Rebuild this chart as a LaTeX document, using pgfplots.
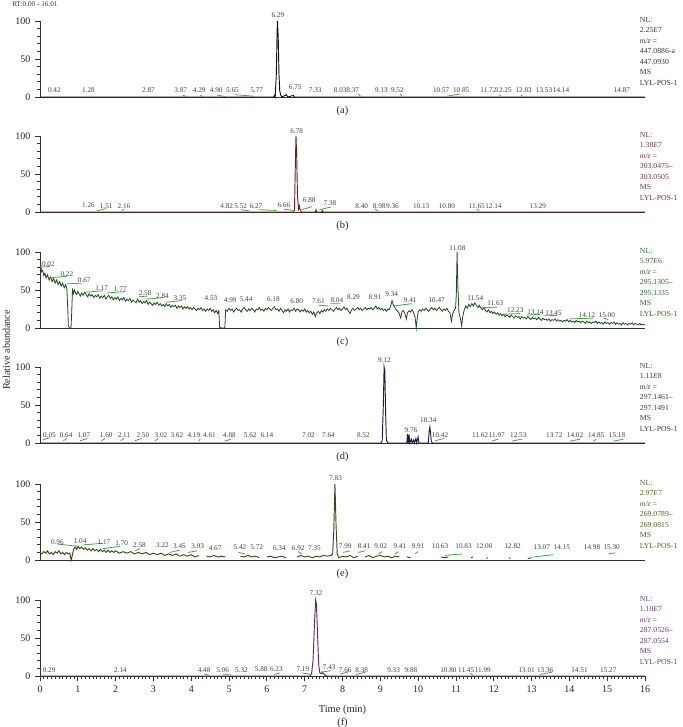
\documentclass[border=0pt]{standalone}
\usepackage{fontspec}
\setmainfont{Liberation Serif}
\usepackage{pgfplots}
\pgfplotsset{compat=1.18}

\definecolor{colA}{HTML}{111111}
\definecolor{colB}{HTML}{6E1E1E}
\definecolor{colC}{HTML}{1E4A1E}
\definecolor{colD}{HTML}{1C1C48}
\definecolor{colE}{HTML}{45451A}
\definecolor{colF}{HTML}{5A2A6A}
\definecolor{txtA}{HTML}{333333}
\definecolor{txtB}{HTML}{7A3434}
\definecolor{txtC}{HTML}{2F6B2F}
\definecolor{txtD}{HTML}{3C3C55}
\definecolor{txtE}{HTML}{5C5C24}
\definecolor{txtF}{HTML}{6A3C7C}
\definecolor{intg}{HTML}{3DAA3D}

\pgfplotsset{
  chrom/.style={
    scale only axis, width=453.75pt, height=57pt,
    xmin=0, xmax=16, ymin=0, ymax=100,
    anchor=south west, clip=false,
    axis x line*=bottom, axis y line*=left,
    axis line style={line width=0.7pt, black!80},
    ytick={0,50,100}, minor y tick num=4,
    xtick=\empty,
    tick align=outside,
    major tick length=3.6pt, minor tick length=2pt,
    tick style={line width=0.6pt, black!80},
    tick label style={font=\fontsize{7.5}{8}\selectfont, text=black!85},
    /pgf/number format/assume math mode=true,
    unbounded coords=jump,
  },
}
\tikzset{
  pk/.style={font=\fontsize{5.4}{6}\selectfont, inner sep=0pt, text=black!75},
  info/.style={anchor=north west, align=left, inner sep=0pt, xshift=-4pt,
    yshift=3pt, font=\fontsize{5.8}{7.9}\selectfont},
  capt/.style={font=\fontsize{7.8}{9}\selectfont, text=black!85},
  ig/.style={intg, line width=0.6pt},
}
\newcommand\pl[3]{\node[pk] at (axis cs:#1,#2) {#3};}

\begin{document}
\begin{tikzpicture}
\path[use as bounding box] (0,0) rectangle (511.5pt,545.25pt);

\node[anchor=west, font=\fontsize{5.4}{6}\selectfont, text=black!80, inner sep=0pt]
  at (9pt,542.2pt) {RT:0.00 - 16.01};
\node[rotate=90, font=\fontsize{7.6}{9}\selectfont, text=black!85]
  at (4.8pt,282.75pt) {Relative abundance};

% ---------------- (a)
\begin{axis}[chrom, at={(30pt,472.5pt)}]
\addplot[colA, line width=0.7pt] coordinates {
 (0,0) (6.18,0) (6.20,2) (6.22,0) (6.25,30) (6.27,85) (6.28,100) (6.30,78)
 (6.32,30) (6.34,8) (6.37,2) (6.40,0) (6.52,3) (6.55,0) (6.70,2) (6.73,0) (16,0)};
\addplot[ig] coordinates {
 (3.77,2.5) (3.88,0.5) (3.9,nan) (4.23,2.5) (4.31,0.5) (4.4,nan)
 (4.68,2.5) (4.90,0.5) (5.0,nan) (5.16,3) (5.66,1) (5.7,nan)
 (8.42,4) (8.48,1) (8.6,nan) (9.52,4) (9.58,1) (9.7,nan)
 (10.76,1) (11.11,4) (11.2,nan) (12.15,3) (12.19,1) (12.3,nan)
 (12.72,3) (12.76,1)};
\pl{0.38}{8.5}{0.42} \pl{1.28}{8.5}{1.28} \pl{2.87}{8.5}{2.87}
\pl{3.72}{8.5}{3.87} \pl{4.21}{8.5}{4.29} \pl{4.66}{8.5}{4.90}
\pl{5.09}{8.5}{5.65} \pl{5.73}{9.5}{5.77} \pl{6.29}{108}{6.29}
\pl{6.75}{13}{6.75} \pl{7.28}{8.5}{7.33} \pl{7.94}{8.5}{8.03}
\pl{8.27}{8.5}{8.37} \pl{9.03}{8.5}{9.13} \pl{9.45}{8.5}{9.52}
\pl{10.61}{8.5}{10.57} \pl{11.14}{8.5}{10.85} \pl{11.86}{8.5}{11.72}
\pl{12.26}{8.5}{12.25} \pl{12.79}{8.5}{12.83} \pl{13.33}{8.5}{13.53}
\pl{13.78}{8.5}{14.14} \pl{15.39}{8.5}{14.87}
\node[info, text=txtA] at (rel axis cs:1,1)
 {NL:\\2.25\textit{E}7\\\textit{m/z} =\\447.0886-a\\447.0930\\MS\\LYL-POS-1};
\node[capt, yshift=-10.5pt] at (rel axis cs:0.5,0) {(a)};
\end{axis}

% ---------------- (b)
\begin{axis}[chrom, at={(30pt,386.25pt)}]
\addplot[colB, line width=0.7pt] coordinates {
 (0,0) (6.70,0) (6.73,2) (6.75,55) (6.77,100) (6.79,70) (6.81,20) (6.84,4)
 (6.86,8) (6.88,3) (6.92,0) (7.28,0) (7.30,3) (7.32,0) (7.45,0) (7.47,2) (7.49,0) (16,0)};
\addplot[ig] coordinates {
 (1.50,1.5) (1.75,4.5) (1.8,nan) (2.16,1) (2.22,4) (2.3,nan)
 (5.31,3) (5.54,1.5) (5.6,nan) (5.78,3) (6.26,2) (6.3,nan)
 (6.44,4) (6.70,2) (6.8,nan) (6.92,3) (7.19,7) (7.3,nan)
 (7.39,3) (7.69,6.5) (7.8,nan) (8.86,4) (8.95,1) (9.0,nan)
 (11.55,4) (11.62,1)};
\pl{1.28}{8.5}{1.26} \pl{1.75}{7.5}{1.51} \pl{2.22}{7.5}{2.16}
\pl{4.94}{8}{4.82} \pl{5.31}{8}{5.52} \pl{5.71}{8}{6.27}
\pl{6.45}{8.5}{6.66} \pl{6.79}{107}{6.78} \pl{7.12}{15}{6.88}
\pl{7.67}{11}{7.38} \pl{8.51}{8}{8.40} \pl{8.97}{8}{8.98}
\pl{9.32}{8}{9.36} \pl{10.08}{8}{10.13} \pl{10.76}{8}{10.80}
\pl{11.55}{8}{11.65} \pl{11.99}{8}{12.14} \pl{13.17}{8}{13.29}
\node[info, text=txtB] at (rel axis cs:1,1)
 {NL:\\1.38\textit{E}7\\\textit{m/z} =\\303.0475–\\303.0505\\MS\\LYL-POS-1};
\node[capt, yshift=-10.5pt] at (rel axis cs:0.5,0) {(b)};
\end{axis}

% ---------------- (c)
\begin{axis}[chrom, at={(30pt,299.25pt)}]
\addplot[colC, line width=0.6pt] coordinates {
 (0.00,80) (0.02,84) (0.04,74) (0.07,76) (0.10,69) (0.13,72) (0.16,66) (0.20,70)
 (0.24,63) (0.28,67) (0.32,61) (0.36,65) (0.40,59) (0.44,63) (0.48,57) (0.52,61)
 (0.56,55) (0.60,59) (0.64,53) (0.68,57) (0.71,52) (0.73,30) (0.75,3) (0.78,0)
 (0.82,0) (0.84,22) (0.86,52) (0.88,45) (0.91,50) (0.94,46) (0.97,44) (1.00,48)
 (1.03,45) (1.07,42) (1.10,46) (1.14,43) (1.18,47) (1.22,44) (1.26,41) (1.30,45)
 (1.34,42) (1.38,44) (1.42,40) (1.46,43) (1.50,41) (1.54,44) (1.58,39) (1.62,42)
 (1.66,40) (1.70,43) (1.74,38) (1.78,41) (1.82,43) (1.86,39) (1.90,41) (1.94,37)
 (1.98,40) (2.02,38) (2.06,41) (2.10,36) (2.14,39) (2.18,37) (2.22,40) (2.26,35)
 (2.30,38) (2.34,36) (2.38,39) (2.42,34) (2.46,37) (2.50,35) (2.54,33) (2.58,38)
 (2.62,34) (2.66,36) (2.70,32) (2.74,35) (2.78,33) (2.82,36) (2.86,31) (2.90,34)
 (2.94,32) (2.98,30) (3.02,33) (3.06,31) (3.10,34) (3.14,30) (3.18,32) (3.22,29)
 (3.26,31) (3.30,28) (3.34,32) (3.38,29) (3.42,31) (3.46,27) (3.50,30) (3.54,28)
 (3.58,30) (3.62,26) (3.66,29) (3.70,27) (3.74,29) (3.78,25) (3.82,28) (3.86,26)
 (3.90,28) (3.94,25) (3.98,27) (4.02,24) (4.06,27) (4.10,25) (4.14,23) (4.18,26)
 (4.22,24) (4.26,27) (4.30,23) (4.34,25) (4.38,22) (4.42,25) (4.46,23) (4.50,26)
 (4.54,22) (4.58,24) (4.62,20) (4.66,23) (4.70,19) (4.73,23) (4.75,1) (4.80,0)
 (4.86,0) (4.89,1) (4.91,24) (4.95,22) (5.00,26) (5.04,23) (5.08,25) (5.12,21)
 (5.16,24) (5.20,26) (5.24,23) (5.28,24) (5.32,21) (5.36,25) (5.40,27) (5.44,24)
 (5.48,22) (5.52,25) (5.56,23) (5.60,26) (5.64,24) (5.68,21) (5.72,25) (5.76,24)
 (5.80,27) (5.84,23) (5.88,25) (5.92,22) (5.96,26) (6.00,24) (6.04,27) (6.08,25)
 (6.12,23) (6.16,26) (6.20,28) (6.24,24) (6.28,25) (6.32,22) (6.36,26) (6.40,23)
 (6.44,20) (6.48,24) (6.52,22) (6.56,25) (6.60,21) (6.64,24) (6.68,23) (6.72,26)
 (6.76,22) (6.80,25) (6.84,24) (6.88,21) (6.92,24) (6.96,22) (7.00,25) (7.04,21)
 (7.08,23) (7.12,20) (7.16,22) (7.20,18) (7.24,21) (7.28,15) (7.32,20) (7.36,22)
 (7.40,19) (7.44,23) (7.48,21) (7.52,24) (7.56,22) (7.60,25) (7.64,23) (7.68,26)
 (7.72,24) (7.76,22) (7.80,25) (7.84,27) (7.88,24) (7.92,26) (7.96,23) (8.00,25)
 (8.04,28) (8.08,24) (8.12,26) (8.16,22) (8.20,19) (8.24,24) (8.28,26) (8.32,23)
 (8.36,25) (8.40,27) (8.44,24) (8.48,26) (8.52,23) (8.56,25) (8.60,27) (8.64,24)
 (8.68,26) (8.72,25) (8.76,27) (8.80,24) (8.84,26) (8.88,29) (8.92,25) (8.96,27)
 (9.00,24) (9.04,26) (9.08,23) (9.12,25) (9.16,22) (9.20,25) (9.24,24) (9.28,30)
 (9.31,36) (9.34,31) (9.38,27) (9.42,24) (9.46,22) (9.50,19) (9.54,13) (9.57,21)
 (9.61,23) (9.65,19) (9.69,12) (9.72,20) (9.76,23) (9.80,21) (9.84,24) (9.88,20)
 (9.92,14) (9.95,0) (9.97,10) (10.00,21) (10.04,24) (10.08,22) (10.12,25) (10.16,23)
 (10.20,26) (10.24,24) (10.28,22) (10.32,25) (10.36,27) (10.40,24) (10.44,26) (10.48,23)
 (10.52,25) (10.56,27) (10.60,24) (10.64,22) (10.68,25) (10.72,23) (10.76,26) (10.80,22)
 (10.84,20) (10.88,9) (10.91,18) (10.95,23) (10.99,26) (11.01,45) (11.03,100) (11.05,55)
 (11.08,20) (11.12,12) (11.15,3) (11.18,15) (11.22,24) (11.26,29) (11.30,26) (11.34,31)
 (11.38,28) (11.42,32) (11.46,29) (11.50,33) (11.54,30) (11.58,27) (11.62,30) (11.66,26)
 (11.70,24) (11.74,27) (11.78,23) (11.82,21) (11.86,24) (11.90,20) (11.94,22) (11.98,19)
 (12.02,21) (12.06,18) (12.10,20) (12.14,17) (12.18,19) (12.22,16) (12.26,18) (12.30,15)
 (12.34,17) (12.38,16) (12.42,14) (12.46,17) (12.50,15) (12.54,13) (12.58,16) (12.62,14)
 (12.66,15) (12.70,12) (12.74,15) (12.78,13) (12.82,14) (12.86,12) (12.90,15) (12.94,13)
 (12.98,11) (13.02,14) (13.06,12) (13.10,13) (13.14,11) (13.18,14) (13.22,12) (13.26,10)
 (13.30,13) (13.34,11) (13.38,12) (13.42,10) (13.46,12) (13.50,9) (13.54,11) (13.58,10)
 (13.62,12) (13.66,9) (13.70,11) (13.74,9) (13.78,10) (13.82,8) (13.86,10) (13.90,9)
 (13.94,11) (13.98,8) (14.02,10) (14.06,8) (14.10,9) (14.14,7) (14.18,10) (14.22,8)
 (14.26,9) (14.30,7) (14.34,9) (14.38,8) (14.42,6) (14.46,9) (14.50,7) (14.54,8)
 (14.58,6) (14.62,8) (14.66,7) (14.70,9) (14.74,6) (14.78,8) (14.82,6) (14.86,7)
 (14.90,5) (14.94,8) (14.98,6) (15.02,7) (15.06,5) (15.10,7) (15.14,6) (15.18,8)
 (15.22,5) (15.26,7) (15.30,5) (15.34,6) (15.38,4) (15.42,7) (15.46,5) (15.50,6)
 (15.54,4) (15.58,6) (15.62,5) (15.66,7) (15.70,4) (15.74,6) (15.78,5) (15.82,4)
 (15.86,6) (15.90,4) (15.94,5) (16.00,4)};
\addplot[ig] coordinates {
 (0.00,80) (0.26,81) (0.3,nan) (0.22,66) (0.71,68) (0.8,nan)
 (0.71,58) (1.10,59) (1.2,nan) (1.19,47) (1.67,49) (1.7,nan)
 (1.76,46) (2.25,48) (2.3,nan) (2.61,41) (2.83,42) (2.9,nan)
 (2.83,38) (3.26,40) (3.3,nan) (3.35,34) (3.75,36) (3.8,nan)
 (7.36,30) (7.63,29) (7.65,nan) (7.67,32) (7.94,32) (8.0,nan)
 (9.35,29) (9.83,32) (9.9,nan) (11.60,26.5) (12.08,27.5) (12.1,nan)
 (12.17,18) (12.70,19) (12.8,nan) (12.88,17) (13.23,18) (13.3,nan)
 (13.32,16) (13.67,16.5) (13.8,nan) (14.02,12) (14.64,13) (14.7,nan)
 (14.90,13) (15.03,11)};
\pl{0.22}{84.6}{0.02} \pl{0.71}{70.8}{0.22} \pl{1.17}{63.5}{0.67}
\pl{1.63}{52.8}{1.17} \pl{2.12}{51.5}{1.77} \pl{2.78}{45.9}{2.58}
\pl{3.24}{41.6}{2.84} \pl{3.70}{39.5}{3.35} \pl{4.52}{39.5}{4.53}
\pl{5.03}{36.5}{4.99} \pl{5.45}{37.3}{5.44} \pl{6.17}{37.8}{6.18}
\pl{6.79}{35.6}{6.80} \pl{7.36}{35.2}{7.61} \pl{7.85}{36.5}{8.04}
\pl{8.29}{40.8}{8.29} \pl{8.86}{40.8}{8.91} \pl{9.30}{45}{9.34}
\pl{9.79}{36.5}{9.41} \pl{10.49}{36.5}{10.47} \pl{11.04}{105}{11.08}
\pl{11.51}{38.7}{11.54} \pl{12.04}{32.2}{11.63} \pl{12.57}{23.6}{12.23}
\pl{13.10}{21.4}{13.14} \pl{13.58}{20.1}{13.45} \pl{14.46}{17.1}{14.12}
\pl{14.99}{17.1}{15.00}
\node[info, text=txtC] at (rel axis cs:1,1)
 {NL:\\5.97\textit{E}6\\\textit{m/z} =\\295.1305–\\295.1335\\MS\\LYL-POS-1};
\node[capt, yshift=-10.5pt] at (rel axis cs:0.5,0) {(c)};
\end{axis}

% ---------------- (d)
\begin{axis}[chrom, at={(30pt,213pt)}]
\addplot[colD, line width=0.7pt] coordinates {
 (0,0) (9.02,0) (9.05,3) (9.08,50) (9.10,100) (9.12,95) (9.14,40) (9.16,4) (9.20,0)
 (9.70,0) (9.72,12) (9.74,0) (9.76,11) (9.78,0) (9.82,5) (9.84,0) (9.88,4) (9.90,0)
 (9.94,6) (9.96,0) (10.00,8) (10.02,0) (10.27,0) (10.29,15) (10.31,21) (10.33,12)
 (10.35,2) (10.38,0) (16,0)};
\addplot[ig] coordinates {
 (0.07,4) (0.26,7) (0.3,nan) (0.62,3) (0.71,6) (0.8,nan)
 (1.06,3) (1.25,6) (1.3,nan) (1.63,3) (1.72,6) (1.8,nan)
 (2.13,3) (2.22,6) (2.3,nan) (2.51,3) (2.69,6) (2.8,nan)
 (3.04,3) (3.13,6) (3.2,nan) (4.20,3) (4.24,5) (4.3,nan)
 (4.88,2.5) (5.05,5) (5.1,nan) (10.45,3) (10.69,6) (10.8,nan)
 (11.95,2.5) (12.12,5) (12.2,nan) (12.48,2.5) (12.74,5) (12.8,nan)
 (14.02,2.5) (14.29,5) (14.4,nan) (14.64,2.5) (14.71,5) (14.8,nan)
 (15.17,2.5) (15.43,5)};
\pl{0.25}{10.8}{0.05} \pl{0.69}{10.8}{0.64} \pl{1.16}{10.8}{1.07}
\pl{1.75}{10.8}{1.60} \pl{2.22}{10.8}{2.11} \pl{2.72}{10.8}{2.50}
\pl{3.20}{10.8}{3.02} \pl{3.62}{10.8}{3.62} \pl{4.07}{10.8}{4.19}
\pl{4.48}{10.8}{4.61} \pl{5.01}{10.8}{4.88} \pl{5.56}{10.8}{5.62}
\pl{6.00}{10.8}{6.14} \pl{7.10}{10.8}{7.02} \pl{7.63}{10.8}{7.64}
\pl{8.55}{10.8}{8.52} \pl{9.11}{108.6}{9.12} \pl{9.81}{17.3}{9.76}
\pl{10.27}{30.4}{10.34} \pl{10.58}{10.8}{10.42} \pl{11.64}{10.8}{11.62}
\pl{12.08}{10.8}{11.97} \pl{12.65}{10.8}{12.53} \pl{13.60}{10.8}{13.72}
\pl{14.15}{10.8}{14.02} \pl{14.71}{10.8}{14.85} \pl{15.26}{10.8}{15.18}
\node[info, text=txtD] at (rel axis cs:1,1)
 {NL:\\1.11\textit{E}8\\\textit{m/z} =\\297.1461–\\297.1491\\MS\\LYL-POS-1};
\node[capt, yshift=-10.5pt] at (rel axis cs:0.5,0) {(d)};
\end{axis}

% ---------------- (e)
\begin{axis}[chrom, at={(30pt,125.25pt)}]
\addplot[colE, line width=0.7pt] coordinates {
 (0.00,10) (0.05,8) (0.10,11) (0.15,9) (0.20,12) (0.25,8) (0.30,10) (0.35,7)
 (0.40,11) (0.45,9) (0.50,12) (0.55,8) (0.60,10) (0.65,7) (0.70,10) (0.75,8)
 (0.79,9) (0.81,3) (0.83,0) (0.86,8) (0.89,14) (0.93,17) (0.97,14) (1.01,18)
 (1.05,15) (1.10,17) (1.15,14) (1.20,16) (1.25,13) (1.30,15) (1.35,12) (1.40,15)
 (1.45,12) (1.50,14) (1.55,11) (1.60,14) (1.65,11) (1.70,13) (1.75,10) (1.80,13)
 (1.85,10) (1.90,12) (1.95,10) (2.00,12) (2.10,9) (2.20,11) (2.30,9) (2.40,11)
 (2.50,8) (2.60,10) (2.70,8) (2.80,10) (2.90,7) (3.00,9) (3.10,7) (3.20,9)
 (3.30,6) (3.40,8) (3.50,6) (3.60,8) (3.70,5) (3.80,7) (3.90,5) (4.00,7)
 (4.10,4) (4.20,6) (4.30,nan) (4.40,5) (4.50,4) (4.60,6) (4.70,4) (4.80,5) (4.90,4)
 (5.10,nan) (5.30,5) (5.40,4) (5.50,6) (5.60,4) (5.70,5) (5.80,3) (5.90,nan)
 (6.00,4) (6.10,5) (6.20,3) (6.30,4) (6.40,5) (6.50,3) (6.60,nan)
 (6.80,4) (6.90,6) (7.00,4) (7.10,5) (7.20,3) (7.30,5) (7.40,4) (7.50,6)
 (7.60,5) (7.70,6) (7.74,8) (7.77,40) (7.80,100) (7.83,45) (7.86,8) (7.90,3)
 (8.00,5) (8.10,4) (8.20,6) (8.30,3) (8.40,5) (8.50,nan) (8.60,4) (8.70,6)
 (8.80,3) (8.90,5) (9.00,6) (9.10,4) (9.20,5) (9.30,3) (9.40,5) (9.50,4)
 (9.60,nan) (9.70,4) (9.80,3) (10.2,nan) (10.60,4) (10.70,3) (10.80,4) (11.0,nan)
 (11.40,3) (11.45,4) (11.6,nan) (11.80,2) (11.84,3) (12.0,nan) (12.40,3) (12.44,2)
 (12.6,nan) (12.90,2) (13.00,3)};
\addplot[ig] coordinates {
 (0.46,21) (1.01,18) (1.1,nan) (1.15,20) (1.67,22) (1.7,nan)
 (1.67,15) (2.12,18) (2.2,nan) (2.51,12) (2.65,15) (2.7,nan)
 (3.44,10) (3.70,13) (3.8,nan) (3.92,10) (4.15,12) (4.2,nan)
 (5.25,10) (5.42,8) (5.5,nan) (6.83,11) (6.92,8) (7.0,nan)
 (8.02,10) (8.20,12) (8.3,nan) (8.42,10) (8.60,12) (8.7,nan)
 (8.95,8) (9.05,11) (9.1,nan) (9.39,8) (9.48,11) (9.5,nan)
 (9.92,8) (10.00,11) (10.1,nan) (10.71,6) (11.16,8) (11.2,nan)
 (13.05,4) (13.58,7) (13.6,nan) (15.03,8) (15.21,9.5)};
\pl{0.46}{24}{0.96} \pl{1.06}{25}{1.04} \pl{1.69}{24}{1.17}
\pl{2.16}{22.5}{1.70} \pl{2.63}{20}{2.58} \pl{3.24}{19.5}{3.22}
\pl{3.69}{18.5}{3.45} \pl{4.17}{18.5}{3.93} \pl{4.63}{16}{4.67}
\pl{5.29}{16.5}{5.42} \pl{5.73}{16.5}{5.72} \pl{6.33}{16}{6.34}
\pl{6.83}{16}{6.92} \pl{7.26}{16}{7.35} \pl{7.82}{108}{7.83}
\pl{8.07}{18}{7.99} \pl{8.57}{18}{8.41} \pl{9.01}{18}{9.02}
\pl{9.52}{18}{9.41} \pl{10.00}{18}{9.91} \pl{10.58}{18}{10.63}
\pl{11.20}{18}{10.83} \pl{11.75}{18}{12.00} \pl{12.50}{18}{12.82}
\pl{13.27}{17}{13.07} \pl{13.80}{17}{14.15} \pl{14.60}{17}{14.98}
\pl{15.12}{17}{15.30}
\node[info, text=txtE] at (rel axis cs:1,1)
 {NL:\\2.97\textit{E}7\\\textit{m/z} =\\269.0789–\\269.0815\\MS\\LYL-POS-1};
\node[capt, yshift=-10.5pt] at (rel axis cs:0.5,0) {(e)};
\end{axis}

% ---------------- (f)
\begin{axis}[chrom, at={(30pt,38.25pt)}, xtick={0,1,...,16}, minor x tick num=9]
\addplot[colF, line width=0.7pt] coordinates {
 (0,0) (7.14,0) (7.18,2) (7.22,20) (7.26,70) (7.29,100) (7.31,95) (7.34,55)
 (7.37,15) (7.40,4) (7.44,3) (7.47,5) (7.50,3) (7.54,1) (7.58,0) (16,0)};
\addplot[ig] coordinates {
 (4.34,2.6) (4.48,1) (4.6,nan) (4.83,2.6) (5.07,1) (5.1,nan)
 (6.19,2) (6.35,4) (6.4,nan) (6.92,4) (7.19,2) (7.2,nan)
 (7.43,5) (7.69,7) (7.8,nan) (7.94,2.6) (8.16,5.5) (8.2,nan)
 (8.36,2) (8.60,5) (8.7,nan) (11.38,4) (11.45,1) (11.5,nan)
 (13.21,2) (13.54,5)};
\pl{0.24}{8}{0.29} \pl{2.13}{8}{2.14} \pl{4.34}{8}{4.48}
\pl{4.83}{8}{5.06} \pl{5.33}{8}{5.32} \pl{5.85}{8.5}{5.88}
\pl{6.25}{8.5}{6.23} \pl{6.95}{9}{7.19} \pl{7.30}{109}{7.32}
\pl{7.65}{11.5}{7.43} \pl{8.07}{8}{7.66} \pl{8.51}{8}{8.38}
\pl{9.35}{8}{9.33} \pl{9.81}{8}{9.88} \pl{10.80}{8}{10.80}
\pl{11.27}{8}{11.45} \pl{11.71}{8}{11.99} \pl{12.87}{8}{13.01}
\pl{13.36}{8}{13.36} \pl{14.27}{8}{14.51} \pl{15.03}{8}{15.27}
\node[info, text=txtF] at (rel axis cs:1,1)
 {NL:\\1.10\textit{E}7\\\textit{m/z} =\\287.0526–\\287.0554\\MS\\LYL-POS-1};
\node[capt, yshift=-25.5pt] at (rel axis cs:0.5,0) {Time (min)};
\node[capt, yshift=-35.2pt] at (rel axis cs:0.5,0) {(f)};
\end{axis}
\end{tikzpicture}
\end{document}
